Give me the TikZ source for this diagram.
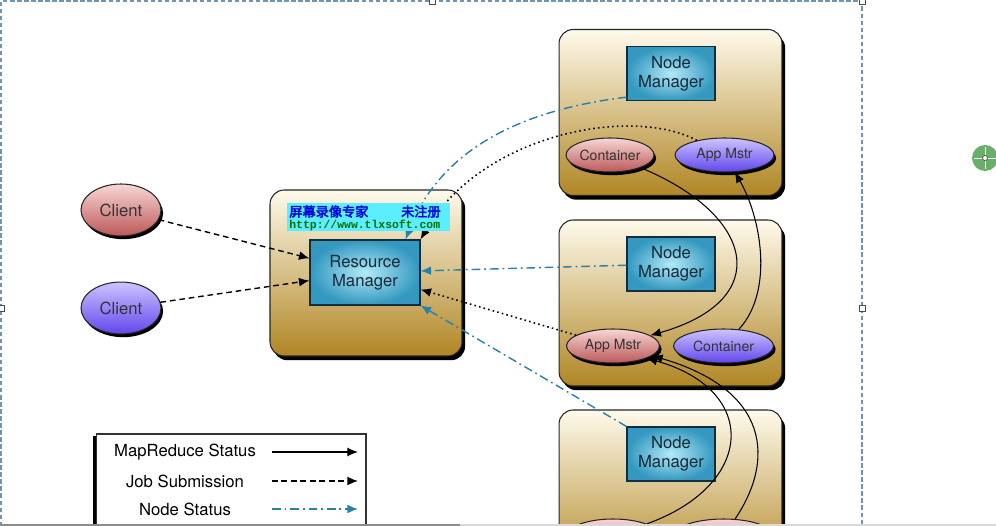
\documentclass[tikz,border=0pt]{standalone}
\usepackage{fontspec}
\setmainfont{TeX Gyre Heros}
\setmonofont{Liberation Mono}
\newfontfamily\cjk[FakeBold=2.5]{Noto Sans CJK SC}
\usepackage{tikz}
\usetikzlibrary{shapes.geometric,shadows,arrows.meta,positioning}

\definecolor{hostTop}{RGB}{255,250,236}
\definecolor{hostBot}{RGB}{176,134,36}
\definecolor{mgrIn}{RGB}{178,234,247}
\definecolor{mgrOut}{RGB}{52,152,192}
\definecolor{mgrEdge}{RGB}{20,45,60}
\definecolor{redTop}{RGB}{248,214,214}
\definecolor{redBot}{RGB}{188,88,88}
\definecolor{bluTop}{RGB}{205,195,255}
\definecolor{bluBot}{RGB}{98,70,235}
\definecolor{nsBlue}{RGB}{38,130,170}
\definecolor{wmCyan}{RGB}{90,238,255}
\definecolor{wmBlue}{RGB}{0,0,220}
\definecolor{wmGreen}{RGB}{0,110,0}
\definecolor{selFrame}{RGB}{110,150,180}
\definecolor{cursorGreen}{RGB}{105,175,105}

\tikzset{hostbox/.style={draw=black!85, line width=0.6pt, rounded corners=8pt,
                         top color=hostTop, bottom color=hostBot,
                         minimum width=4.46cm, minimum height=3.32cm,
                         drop shadow={shadow xshift=1.8pt, shadow yshift=-2.4pt, opacity=1, fill=black}}}
\tikzset{mgrbox/.style={draw=mgrEdge, line width=0.6pt, inner color=mgrIn, outer color=mgrOut,
                        minimum width=1.76cm, minimum height=1.08cm, align=center,
                        inner sep=1pt, text={rgb,255:red,25;green,40;blue,55}}}
\tikzset{oval/.style={ellipse, draw=black!85, line width=0.6pt, inner sep=0pt,
                      minimum height=0.68cm, font=\fontsize{8}{9}\selectfont, text=black!80,
                      drop shadow={shadow xshift=1.2pt, shadow yshift=-1.8pt, opacity=1, fill=black}},
         redoval/.style={oval, top color=redTop, bottom color=redBot},
         blueoval/.style={oval, top color=bluTop, bottom color=bluBot},
         client/.style={minimum width=1.6cm, minimum height=1.04cm, font=\fontsize{9.5}{11}\selectfont}}
\tikzset{mrstatus/.style={line width=0.6pt, -{Latex[length=6pt,width=5pt]}},
         jobsub/.style={line width=0.8pt, dash pattern=on 3.2pt off 2.2pt, -{Latex[length=6pt,width=5pt]}},
         amstatus/.style={line width=0.9pt, dash pattern=on 0.9pt off 1.8pt, -{Latex[length=6pt,width=5pt]}},
         nodestatus/.style={nsBlue, line width=0.8pt, dash pattern=on 5pt off 2.2pt on 1pt off 2.2pt,
                            -{Latex[length=6pt,width=5pt]}}}

\begin{document}
\begin{tikzpicture}[x=0.02cm, y=-0.02cm, font=\fontsize{9.5}{11}\selectfont]
    \useasboundingbox (0,0) rectangle (996,526);
    \fill[white] (0,0) rectangle (996,526);
    \begin{scope}
        \clip (0,0) rectangle (996,523);
        % resource manager
        \node[hostbox, minimum width=3.84cm] (rmhost) at (366,273) {};
        \node[mgrbox, minimum width=2.2cm, minimum height=1.3cm] (rm) at (365,272.5) {Resource\\Manager};
        % node managers
        \foreach \Y [count=\N] in {112.5,303,493}
            {
                \node[hostbox] (host\N) at (670.5,\Y) {};
                \node[mgrbox] (nm\N) at (671,\Y-39) {Node\\Manager};
            }
        % clients
        \node[redoval, client] (cl1) at (121,210) {Client};
        \node[blueoval, client, below=0.9cm of cl1] (cl2) {Client};
        % containers and app masters
        \node[redoval, minimum width=1.76cm] (ct1) at (610,155) {Container};
        \node[blueoval, minimum width=1.98cm, right=0.4cm of ct1] (am1) {App Mstr};
        \node[redoval, minimum width=1.86cm] (am2) at (613,346) {App Mstr};
        \node[blueoval, minimum width=2cm, right=0.26cm of am2] (ct2) {Container};
        \node[redoval, minimum width=1.86cm] (ct3) at (613,536) {};
        \node[redoval, minimum width=2cm, right=0.26cm of ct3] (ct4) {};
        %
        \draw[jobsub] (cl1) -- (rm);
        \draw[jobsub] (cl2) -- (rm);
        \draw[nodestatus] (nm1.208) .. controls (520,110) and (440,150) .. ([xshift=-0.3cm]rm.north east);
        \draw[nodestatus] (nm2) -- (rm);
        \draw[nodestatus] (nm3.north west) -- (rm.south east);
        \draw[amstatus] (am1) .. controls (630,105) and (480,135) .. (rm.north east);
        \draw[amstatus] (am2) -- (rm.-17);
        \draw[mrstatus] (ct1) .. controls (755,215) and (775,300) .. (am2);
        \draw[mrstatus] (ct2) .. controls (775,290) and (760,215) .. (am1);
        \draw[mrstatus] (ct3) .. controls (755,485) and (760,390) .. (am2.-20);
        \draw[mrstatus] (ct4) .. controls (775,460) and (770,390) .. (am2.-14);
        % watermark
        \node[fill=wmCyan, minimum width=3.26cm, minimum height=0.56cm, inner sep=0pt] (wm) at (368.5,217) {};
        \node[anchor=west, inner sep=0pt, text=wmBlue, font=\cjk\fontsize{7.5}{9}\selectfont] (wmcn) at (289,211.5) {屏幕录像专家};
        \node[anchor=east, inner sep=0pt, text=wmBlue, font=\cjk\fontsize{7.5}{9}\selectfont] (wmreg) at (441,211.5) {未注册};
        \node[anchor=west, inner sep=0pt, text=wmGreen, font=\ttfamily\bfseries\fontsize{6.5}{7}\selectfont] (wmurl) at (289,225) {http://www.tlxsoft.com};
        % legend
        \node[draw=black!80, line width=0.6pt, fill=white, minimum width=5.4cm, minimum height=2.4cm,
              drop shadow={shadow xshift=-2pt, shadow yshift=-1pt, opacity=1, fill=black}] (legend) at (231,494) {};
        \node (lgmr) at (185,452) {MapReduce Status};
        \node (lgjob) at (185,481) {Job Submission};
        \node (lgns) at (185,509) {Node Status};
        \coordinate (lgmr-a) at (272,452);  \coordinate (lgmr-b) at (358,452);
        \coordinate (lgjob-a) at (272,481); \coordinate (lgjob-b) at (358,481);
        \coordinate (lgns-a) at (272,509);  \coordinate (lgns-b) at (358,509);
        \draw[mrstatus] (lgmr-a) -- (lgmr-b);
        \draw[jobsub] (lgjob-a) -- (lgjob-b);
        \draw[nodestatus] (lgns-a) -- (lgns-b);
    \end{scope}
    % selection frame and window edge
    \draw[selFrame, line width=0.6pt, dash pattern=on 2.5pt off 1.5pt] (1,526) -- (1,1) -- (862,1) -- (862,526);
    \foreach \X/\Y in {432/1,862/1,1/308,862/308}
        {\draw[black!70, fill=white, line width=0.4pt] (\X-3,\Y-3) rectangle (\X+3,\Y+3);}
    \fill[black!45] (0,523.5) rectangle (460,526);
    \fill[black!15] (460,523.5) rectangle (996,526);
    % cursor
    \fill[cursorGreen] (985,158) circle [radius=13];
    \draw[white, line width=0.5pt] (974,158) -- (996,158) (985,147) -- (985,169);
    \draw[black!70, fill=white, line width=0.4pt] (985,158) circle [radius=2.5];
\end{tikzpicture}
\end{document}
